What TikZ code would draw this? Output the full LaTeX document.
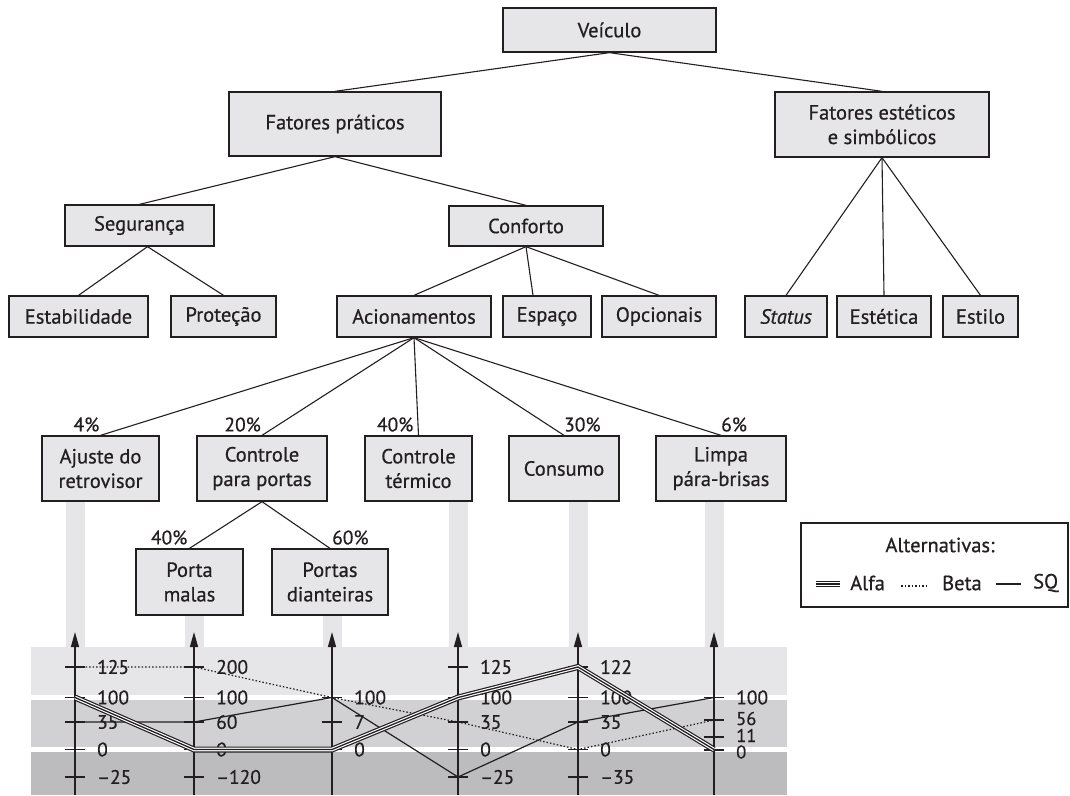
\documentclass[tikz,border=0pt]{standalone}
\usepackage{fontspec}
\setmainfont{PT Sans}[FakeBold=0.6]
\usetikzlibrary{arrows.meta,calc}
\definecolor{boxfill}{HTML}{E6E6E8}
\definecolor{bandA}{HTML}{E6E6E8}
\definecolor{bandB}{HTML}{D1D1D3}
\definecolor{bandC}{HTML}{BCBCBE}
\definecolor{ink}{HTML}{231F20}
\begin{document}
\begin{tikzpicture}[x=1pt,y=-1pt,
  box/.style={draw=ink, line width=1.3pt, fill=boxfill, inner sep=0pt, align=center,
    font=\fontsize{20.5}{24.5}\selectfont, text=ink},
  conn/.style={draw=ink, line width=1.1pt},
  pct/.style={font=\fontsize{19.5}{22}\selectfont, text=ink, inner sep=0pt},
  lbl/.style={font=\fontsize{19.5}{22}\selectfont, text=ink, inner sep=0pt, anchor=west},
  axisline/.style={draw=ink, line width=1.3pt, -{Triangle[length=15pt,width=8pt]}},
  tickmark/.style={draw=ink, line width=1.1pt},
  alfa/.style={draw=ink, line width=6pt, postaction={draw=white, line width=3.6pt}, postaction={draw=ink, line width=1.3pt}},
  beta/.style={draw=ink, line width=1.2pt, dash pattern=on 1.5pt off 2pt},
  sq/.style={draw=ink, line width=1.2pt},
  legtext/.style={font=\fontsize{20.5}{24}\selectfont, text=ink, inner sep=0pt}
]
\useasboundingbox (0,0) rectangle (1070,795);

% ---------- tree ----------
\node[box, minimum width=213, minimum height=44] (veiculo) at (609.5,30) {Veículo};
\node[box, minimum width=212, minimum height=64] (fp) at (335,124) {Fatores práticos};
\node[box, minimum width=214, minimum height=65] (fe) at (882,124.5) {Fatores estéticos\\e simbólicos};
\node[box, minimum width=149, minimum height=41] (seg) at (139.5,225.5) {Segurança};
\node[box, minimum width=154, minimum height=40] (conf) at (526,226) {Conforto};
\node[box, minimum width=139, minimum height=41] (estab) at (78.5,316.5) {Estabilidade};
\node[box, minimum width=105, minimum height=41] (prot) at (223.5,316.5) {Proteção};
\node[box, minimum width=154, minimum height=41] (acion) at (414,316.5) {Acionamentos};
\node[box, minimum width=88, minimum height=41] (espaco) at (547,316.5) {Espaço};
\node[box, minimum width=114, minimum height=41] (opc) at (659,316.5) {Opcionais};
\node[box, minimum width=82, minimum height=41] (status) at (786,316.5) {\textit{Status}};
\node[box, minimum width=94, minimum height=41] (estet) at (884,316.5) {Estética};
\node[box, minimum width=75, minimum height=41] (estilo) at (980.5,316.5) {Estilo};

\node[box, minimum width=117, minimum height=65] (ajuste) at (100.5,468.5) {Ajuste do\\retrovisor};
\node[box, minimum width=130, minimum height=65] (cpp) at (262,468.5) {Controle\\para portas};
\node[box, minimum width=107, minimum height=65] (ct) at (418.5,468.5) {Controle\\térmico};
\node[box, minimum width=110, minimum height=65] (consumo) at (564,468.5) {Consumo};
\node[box, minimum width=130, minimum height=65] (limpa) at (721,468.5) {Limpa\\pára-brisas};
\node[box, minimum width=107, minimum height=66] (pm) at (189.5,582) {Porta\\malas};
\node[box, minimum width=116, minimum height=66] (pd) at (330,582) {Portas\\dianteiras};

\draw[conn] (veiculo.south) -- (fp.north);
\draw[conn] (veiculo.south) -- (fe.north);
\draw[conn] (fp.south) -- (seg.north);
\draw[conn] (fp.south) -- (conf.north);
\draw[conn] ([xshift=8pt]seg.south) -- (estab.north);
\draw[conn] ([xshift=8pt]seg.south) -- (prot.north);
\draw[conn] (conf.south) -- (acion.north);
\draw[conn] (conf.south) -- ([xshift=-14pt]espaco.north);
\draw[conn] (conf.south) -- (opc.north);
\draw[conn] (fe.south) -- (status.north);
\draw[conn] (fe.south) -- (estet.north);
\draw[conn] (fe.south) -- (estilo.north);
\draw[conn] (acion.south) -- (ajuste.north);
\draw[conn] (acion.south) -- (cpp.north);
\draw[conn] (acion.south) -- (ct.north);
\draw[conn] (acion.south) -- (consumo.north);
\draw[conn] (acion.south) -- (limpa.north);
\draw[conn] (cpp.south) -- (pm.north);
\draw[conn] (cpp.south) -- (pd.north);

\node[pct, anchor=base east] (p1) at ([xshift=-1pt,yshift=4pt]ajuste.north) {4\%};
\node[pct, anchor=base east] (p2) at ([xshift=-1pt,yshift=4pt]cpp.north) {20\%};
\node[pct, anchor=base east] (p3) at ([xshift=-5pt,yshift=4pt]ct.north) {40\%};
\node[pct, anchor=base west] (p4) at ([xshift=0pt,yshift=4pt]consumo.north) {30\%};
\node[pct, anchor=base west] (p5) at ([xshift=0pt,yshift=4pt]limpa.north) {6\%};
\node[pct, anchor=base east] (p6) at ([xshift=-2pt,yshift=4pt]pm.north) {40\%};
\node[pct, anchor=base west] (p7) at ([xshift=2pt,yshift=4pt]pd.north) {60\%};

% ---------- chart background ----------
\fill[bandA] (31,647) rectangle (787,695);
\fill[bandB] (31,700) rectangle (787,747);
\fill[bandC] (31,752) rectangle (787,795);
\fill[bandA] (65.5,501.65) rectangle (84.5,647);
\fill[bandA] (184.5,615.65) rectangle (203.5,647);
\fill[bandA] (322.5,615.65) rectangle (341.5,647);
\fill[bandA] (448.5,501.65) rectangle (467.5,647);
\fill[bandA] (568.5,501.65) rectangle (587.5,647);
\fill[bandA] (704.5,501.65) rectangle (723.5,647);

% ---------- axes ----------
\foreach \ax/\xx in {a/75, b/194, c/332, d/458, e/578, f/714} {
  \coordinate (\ax bot) at (\xx,795);
  \coordinate (\ax top) at (\xx,632);
  \draw[axisline] (\ax bot) -- (\ax top);
}
% ticks and labels
\foreach \xx/\yy/\tt in {
  75/667/125, 75/697.5/100, 75/722/35, 75/749.5/0, 75/777/–25,
  194/667/200, 194/697.5/100, 194/722/60, 194/749.5/0, 194/777/–120,
  332/697.5/100, 332/722/7, 332/749.5/0,
  458/667/125, 458/697.5/100, 458/722/35, 458/749.5/0, 458/777/–25,
  578/667/122, 578/697.5/100, 578/722/35, 578/749.5/0, 578/777/–35,
  714/697.5/100} {
  \draw[tickmark] (\xx-10,\yy) -- (\xx+10,\yy);
  \node[lbl] at (\xx+22,\yy) {\tt};
}
% tightly stacked labels on the last axis
\foreach \yy/\ly/\tt in {720/718.5/56, 737/735.5/11, 750/752/0} {
  \draw[tickmark] (704,\yy) -- (724,\yy);
  \node[lbl, font=\fontsize{18.5}{20}\selectfont] at (736,\ly) {\tt};
}

% ---------- data lines ----------
\draw[beta] (75,667) -- (194,667) -- (332,697.5) -- (458,722) -- (578,749.5) -- (714,720);
\draw[sq] (75,722) -- (194,722) -- (332,697.5) -- (458,777) -- (578,722) -- (714,697.5);
\draw[alfa] (75,697.5) -- (194,749.5) -- (332,749.5) -- (458,697.5) -- (578,667) -- (714,749.5);

% ---------- legend ----------
\node[draw=ink, line width=1.1pt, fill=white, minimum width=267, minimum height=84, inner sep=0pt] (legend) at (934.5,565) {};
\node[legtext] (legtitle) at (940,545) {Alternativas:};
\coordinate (la1) at (816,584);
\coordinate (la2) at (840,584);
\draw[alfa] (la1) -- (la2);
\node[legtext, anchor=west] (lalfa) at (850,583) {Alfa};
\coordinate (lb1) at (901,586);
\coordinate (lb2) at (929,586);
\draw[beta] (lb1) -- (lb2);
\node[legtext, anchor=west] (lbeta) at (942,583) {Beta};
\coordinate (lc1) at (996,584);
\coordinate (lc2) at (1021,584);
\draw[sq] (lc1) -- (lc2);
\node[legtext, anchor=west] (lsq) at (1033,583) {SQ};
\end{tikzpicture}
\end{document}
